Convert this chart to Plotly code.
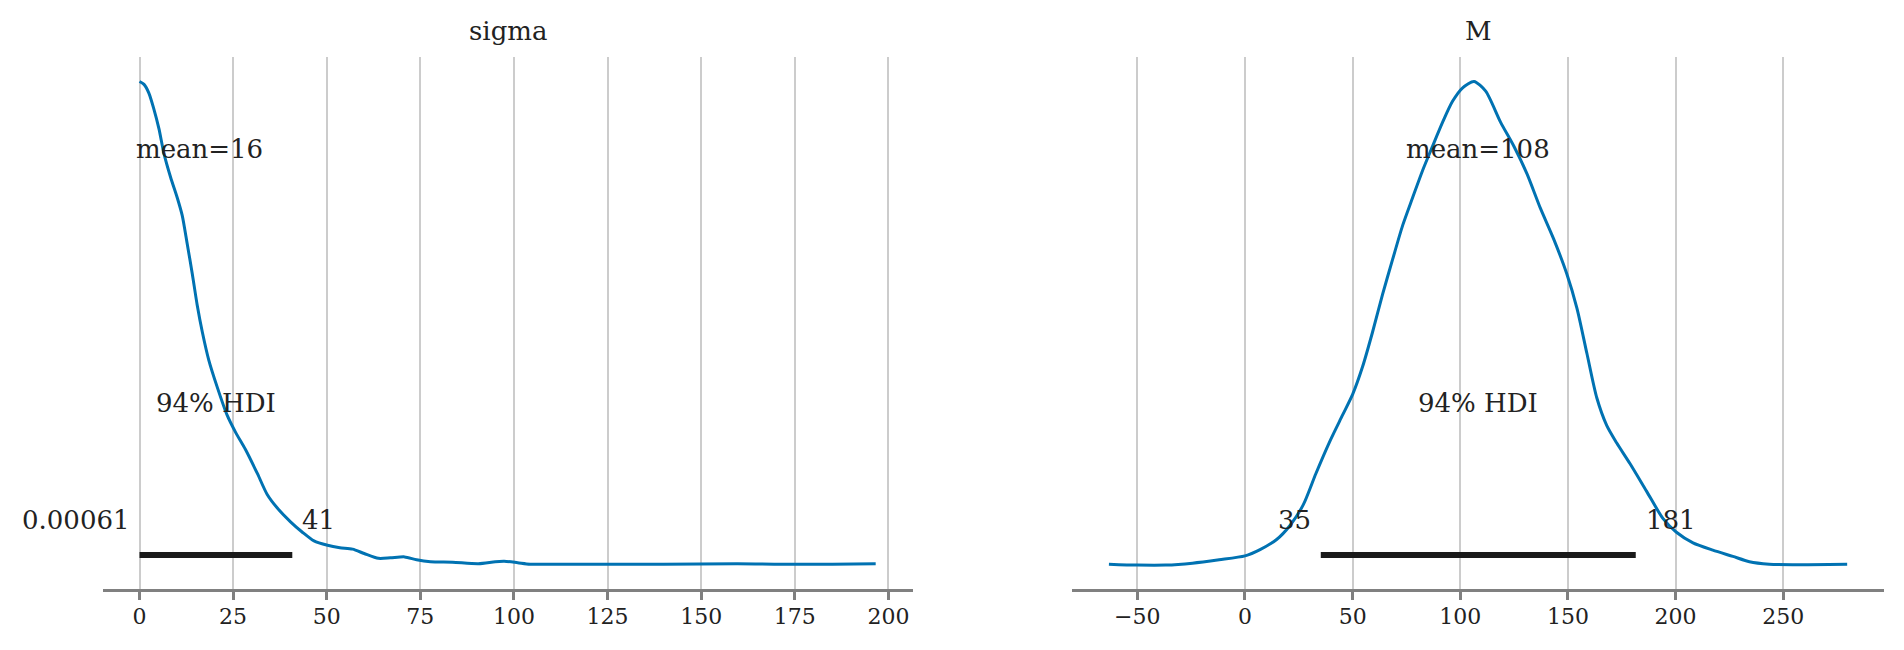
import plotly.graph_objects as go

# ---------------- data ----------------
panel_titles = ["sigma", "M"]

# relative posterior density (peak = 1) for sigma
sigma_x = [0, 1.2, 2.5, 3.8, 5.2, 6.5, 8.3, 10.1, 11.4, 12.7, 14.1, 15.4, 16.8, 18.5,
           20.8, 23.4, 25.7, 28.3, 31.5, 34.1, 36.8, 40.4, 43.5, 46.6, 50.2, 53.5,
           56.9, 60.0, 63.8, 67.0, 70.8, 74.0, 77.7, 83.6, 90.5, 95.0, 97.4, 101.0,
           104.3, 115, 125, 140, 159.6, 169.5, 185, 196.6]
sigma_density = [1.0, 0.994, 0.976, 0.944, 0.902, 0.852, 0.802, 0.759, 0.723, 0.666,
                 0.602, 0.538, 0.481, 0.424, 0.367, 0.310, 0.274, 0.239, 0.189, 0.146,
                 0.118, 0.089, 0.068, 0.050, 0.041, 0.036, 0.033, 0.024, 0.014, 0.015,
                 0.017, 0.011, 0.007, 0.006, 0.003, 0.007, 0.008, 0.005, 0.002, 0.002,
                 0.002, 0.002, 0.003, 0.002, 0.002, 0.003]

# relative posterior density (peak = 1) for M
m_x = [-63.2, -50, -36.8, -24.4, -12.0, 0, 7.0, 14.7, 20.9, 27.1, 32.9, 39.1, 45.3, 50,
       54.6, 59.2, 63.9, 68.5, 73.2, 77.8, 82.5, 87.1, 91.8, 96.4, 101.1, 106.4, 111.8,
       118.7, 124.9, 131.0, 137.2, 143.4, 149.5, 154.2, 158.8, 163.4, 168.0, 172.6,
       178.8, 186.5, 194.2, 200.4, 208.1, 217.3, 226.6, 234.3, 243.5, 254.3, 279.7]
m_density = [0.002, 0.0, 0.0, 0.004, 0.011, 0.019, 0.032, 0.053, 0.082, 0.125, 0.189,
             0.253, 0.310, 0.353, 0.410, 0.481, 0.560, 0.631, 0.702, 0.759, 0.816, 0.866,
             0.916, 0.959, 0.987, 1.0, 0.980, 0.916, 0.866, 0.809, 0.738, 0.674, 0.602,
             0.531, 0.438, 0.346, 0.289, 0.253, 0.210, 0.153, 0.096, 0.068, 0.046, 0.031,
             0.018, 0.007, 0.002, 0.001, 0.002]

means = [16, 108]
mean_labels = ["mean=16", "mean=108"]
hdi_low = [0.00061, 35.2]
hdi_high = [40.8, 181.5]
hdi_low_labels = ["0.00061", "35"]
hdi_high_labels = ["41", "181"]
hdi_text = "94% HDI"

sigma_ticks = [0, 25, 50, 75, 100, 125, 150, 175, 200]
m_ticks = [-50, 0, 50, 100, 150, 200, 250]
m_tick_labels = ["\u221250", "0", "50", "100", "150", "200", "250"]

# ---------------- styling / layout ----------------
W, H = 1904, 650
FONT = "DejaVu Serif"
TXT = "#222222"
BLUE = "#0072B2"
GRID = "#cccccc"
AXC = "#808080"

curves = [(sigma_x, sigma_density), (m_x, m_density)]
xranges = [[-9.83, 206.43], [-80.3, 296.9]]
xdomains = [[102.7 / W, 912.5 / W], [1072.1 / W, 1884.2 / W]]
ydomain = [1 - 589.3 / H, 1 - 57.3 / H]
YTOP = 1.05

fig = go.Figure()
annotations = []
for i in range(2):
    xa = "x" if i == 0 else "x2"
    ya = "y" if i == 0 else "y2"
    cx, cy = curves[i]
    fig.add_trace(go.Scatter(x=cx, y=cy, mode="lines", xaxis=xa, yaxis=ya,
                             line=dict(color=BLUE, width=3, shape="spline", smoothing=0.7),
                             hoverinfo="skip", showlegend=False))
    fig.add_trace(go.Scatter(x=[hdi_low[i], hdi_high[i]], y=[0.02 * YTOP, 0.02 * YTOP],
                             mode="lines", xaxis=xa, yaxis=ya,
                             line=dict(color="#1a1a1a", width=6),
                             hoverinfo="skip", showlegend=False))
    common = dict(xref=xa, yref=ya, showarrow=False, yanchor="bottom", yshift=-7,
                  font=dict(family=FONT, size=26, color=TXT))
    annotations.append(dict(x=means[i], y=0.8 * YTOP, text=mean_labels[i],
                            xanchor="center", **common))
    annotations.append(dict(x=(hdi_low[i] + hdi_high[i]) / 2, y=0.3 * YTOP, text=hdi_text,
                            xanchor="center", **common))
    annotations.append(dict(x=hdi_low[i], y=0.07 * YTOP, text=hdi_low_labels[i],
                            xanchor="right", xshift=-8, **common))
    annotations.append(dict(x=hdi_high[i], y=0.07 * YTOP, text=hdi_high_labels[i],
                            xanchor="left", xshift=8, **common))
    annotations.append(dict(xref=xa + " domain", yref="paper", x=0.5, y=1 - 48 / H,
                            text=panel_titles[i], showarrow=False, xanchor="center",
                            yanchor="bottom", font=dict(family=FONT, size=26, color=TXT)))

xaxis_common = dict(showgrid=True, gridcolor=GRID, gridwidth=2, zeroline=False,
                    showline=True, linecolor=AXC, linewidth=3,
                    ticks="outside", ticklen=8, tickwidth=2.5, tickcolor=AXC,
                    ticklabelstandoff=-3,
                    tickfont=dict(family=FONT, size=22, color=TXT),
                    fixedrange=True)
yaxis_common = dict(range=[-0.05, YTOP], domain=ydomain, showgrid=False, zeroline=False,
                    showline=False, showticklabels=False, ticks="", fixedrange=True)

fig.update_layout(
    width=W, height=H, margin=dict(l=0, r=0, t=0, b=0),
    paper_bgcolor="white", plot_bgcolor="white",
    xaxis=dict(domain=xdomains[0], range=xranges[0], tickvals=sigma_ticks,
               ticktext=[str(t) for t in sigma_ticks], anchor="y", **xaxis_common),
    xaxis2=dict(domain=xdomains[1], range=xranges[1], tickvals=m_ticks,
                ticktext=m_tick_labels, anchor="y2", **xaxis_common),
    yaxis=dict(anchor="x", **yaxis_common),
    yaxis2=dict(anchor="x2", **yaxis_common),
    annotations=annotations,
    showlegend=False,
)

fig.write_html("out.html", config={"displayModeBar": False},
               post_script="document.body.style.margin='0';document.body.style.overflow='hidden';")
